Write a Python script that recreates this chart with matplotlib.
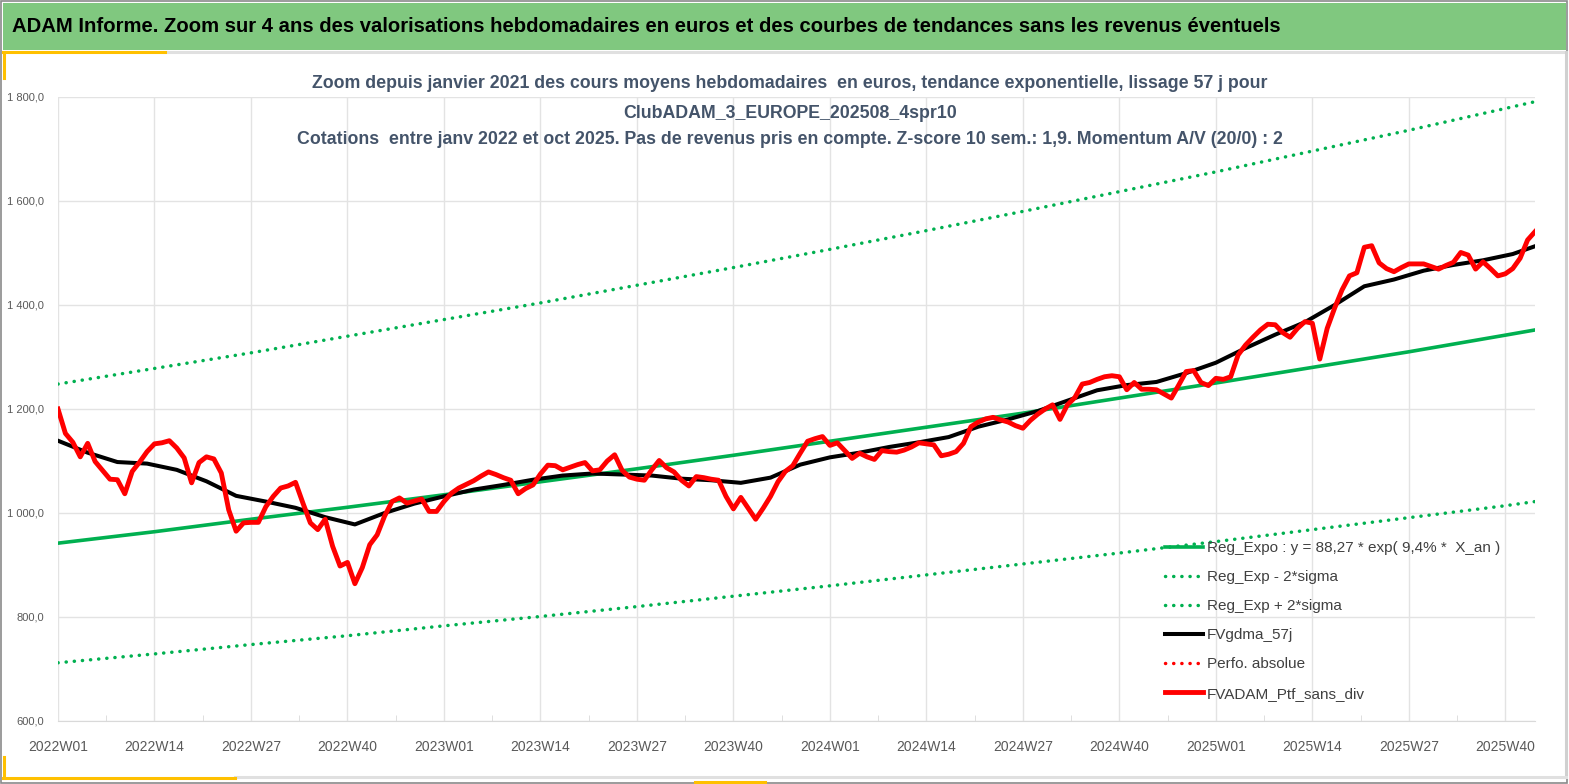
import numpy as np
import matplotlib
matplotlib.use("Agg")
import matplotlib.pyplot as plt
from matplotlib.patches import Rectangle
from matplotlib.lines import Line2D

plt.rcParams['font.family'] = ['Liberation Sans', 'DejaVu Sans']

# semaines (axe des categories)
weeks = [f"{y}W{w:02d}" for y in (2022, 2023, 2024) for w in range(1, 53)]
weeks += [f"2025W{w:02d}" for w in range(1, 45)]

# FVADAM_Ptf_sans_div, valeur hebdo
ptf = [1200, 1153, 1136, 1108, 1134, 1099, 1082, 1065, 1064, 1037,
       1080, 1098, 1118, 1133, 1135, 1139, 1125, 1106, 1058, 1097,
       1108, 1104, 1077, 1006, 965, 981, 982, 982, 1012, 1032,
       1048, 1052, 1059, 1019, 981, 968, 988, 936, 898, 905,
       864, 895, 939, 958, 994, 1022, 1029, 1019, 1023, 1027,
       1003, 1003, 1022, 1038, 1048, 1055, 1062, 1071, 1079, 1074,
       1068, 1063, 1037, 1047, 1054, 1075, 1092, 1091, 1083, 1088,
       1093, 1097, 1081, 1083, 1100, 1112, 1082, 1069, 1065, 1063,
       1083, 1101, 1087, 1079, 1063, 1052, 1070, 1068, 1065, 1063,
       1032, 1008, 1030, 1009, 988, 1009, 1032, 1060, 1080, 1091,
       1115, 1138, 1143, 1147, 1130, 1135, 1120, 1105, 1115, 1108,
       1103, 1120, 1118, 1117, 1121, 1127, 1135, 1133, 1131, 1110,
       1113, 1118, 1134, 1166, 1175, 1181, 1184, 1179, 1175, 1168,
       1163, 1178, 1190, 1200, 1208, 1180, 1208, 1222, 1248, 1251,
       1257, 1262, 1264, 1262, 1237, 1251, 1238, 1238, 1237, 1229,
       1221, 1246, 1272, 1274, 1251, 1245, 1259, 1257, 1262, 1304,
       1323, 1338, 1352, 1363, 1362, 1347, 1338, 1355, 1368, 1365,
       1296, 1355, 1394, 1429, 1456, 1462, 1511, 1514, 1481, 1470,
       1464, 1472, 1479, 1479, 1479, 1474, 1469, 1476, 1482, 1501,
       1496, 1469, 1483, 1470, 1456, 1460, 1470, 1490, 1525, 1541]

# FVgdma_57j, lue toutes les 4 semaines
gdma_weeks = weeks[::4] + [weeks[-1]]
gdma = [1139, 1116, 1098, 1095, 1083, 1061, 1033, 1022, 1010, 992,
        978, 1000, 1018, 1032, 1045, 1054, 1064, 1072, 1076, 1074,
        1072, 1066, 1063, 1058, 1068, 1093, 1107, 1116, 1127, 1136,
        1146, 1166, 1180, 1196, 1216, 1236, 1246, 1252, 1269, 1289,
        1317, 1343, 1367, 1400, 1436, 1449, 1466, 1477, 1486, 1498,
        1513]

# regression expo et bandes +/- 2 sigma, lues aux semaines du quadrillage
trend_weeks = weeks[::13] + [weeks[-1]]
reg_expo = [942, 964, 988, 1011, 1035, 1060, 1085, 1111, 1138, 1165,
            1192, 1221, 1250, 1280, 1310, 1342, 1352]
reg_moins = [712, 729, 747, 764, 783, 801, 820, 840, 860, 881,
             902, 923, 945, 968, 991, 1014, 1022]
reg_plus = [1248, 1278, 1308, 1340, 1372, 1404, 1438, 1472, 1507, 1543,
            1580, 1618, 1656, 1696, 1736, 1778, 1791]
perfo_abs = []

W, H = 1569, 784


def fx(px):
    return px / W


def fy(py):
    return 1 - py / H


fig = plt.figure(figsize=(W / 100, H / 100), dpi=100)
ax = fig.add_axes([fx(58), fy(721), (1535 - 58) / W, (721 - 97) / H])

# cadre, bandeau et reperes jaunes
fig.patches.append(Rectangle((fx(1), fy(783)), 1566 / W, 782 / H, transform=fig.transFigure,
                             fill=False, ec='#8a8a8a', lw=1.2))
fig.patches.append(Rectangle((fx(3), fy(50)), 1563 / W, 47 / H, transform=fig.transFigure,
                             fc='#80c87f', ec='none'))
for xs, ys, c in [((165, 1566), (52, 52), '#e0e0e0'), ((1566, 1566), (52, 777), '#d0d0d0'),
                  ((235, 1566), (777, 777), '#e0e0e0'),
                  ((3, 165), (52, 52), '#ffc000'), ((4, 4), (52, 78), '#ffc000'),
                  ((3, 235), (778, 778), '#ffc000'), ((4, 4), (757, 778), '#ffc000'),
                  ((695, 765), (782, 782), '#ffc000')]:
    fig.lines.append(Line2D([fx(v) for v in xs], [fy(v) for v in ys], transform=fig.transFigure,
                            color=c, lw=2.2))

fig.text(fx(12), fy(27), "ADAM Informe. Zoom sur 4 ans des valorisations hebdomadaires en euros et "
         "des courbes de tendances sans les revenus éventuels", ha='left', va='center',
         fontsize=14.6, fontweight='bold', color='black')

sub = ["Zoom depuis janvier 2021 des cours moyens hebdomadaires  en euros, tendance exponentielle, lissage 57 j pour",
       "ClubADAM_3_EUROPE_202508_4spr10",
       "Cotations  entre janv 2022 et oct 2025. Pas de revenus pris en compte. Z-score 10 sem.: 1,9. Momentum A/V (20/0) : 2"]
for txt, py in zip(sub, (83, 113, 139)):
    fig.text(fx(790), fy(py), txt, ha='center', va='center', fontsize=12.8, fontweight='bold',
             color='#44546a')

x = np.arange(len(weeks))
xt = [weeks.index(w) for w in trend_weeks]
xg = [weeks.index(w) for w in gdma_weeks]
dots = dict(color='#00b050', lw=2.5, linestyle=(0, (0.05, 2.3)), dash_capstyle='round')

ax.plot(xt, reg_expo, color='#00b050', lw=2.6, label='Reg_Expo : y = 88,27 * exp( 9,4% *  X_an )')
ax.plot(xt, reg_moins, label='Reg_Exp - 2*sigma', **dots)
ax.plot(xt, reg_plus, label='Reg_Exp + 2*sigma', **dots)
ax.plot(xg, gdma, color='black', lw=2.9, label='FVgdma_57j')
ax.plot(perfo_abs, perfo_abs, color='#ff0000', lw=2.5, linestyle=(0, (0.05, 2.3)),
        dash_capstyle='round', label='Perfo. absolue')
ax.plot(x, ptf, color='#ff0000', lw=3.5, label='FVADAM_Ptf_sans_div')

ax.set_xlim(0, len(weeks) - 1)
ax.set_ylim(600, 1800)
ax.set_yticks(range(600, 1801, 200))
ax.set_yticklabels([f"{v:,.1f}".replace(',', ' ').replace('.', ',') for v in range(600, 1801, 200)])
ax.set_xticks(range(0, len(weeks), 13))
ax.set_xticklabels(weeks[::13])
ax.set_xticks(np.arange(6.5, len(weeks), 13), minor=True)

ax.grid(True, which='major', color='#e3e3e3', lw=1)
ax.set_axisbelow(True)
for s in ('top', 'right', 'left'):
    ax.spines[s].set_visible(False)
ax.spines['bottom'].set_color('#d9d9d9')
ax.tick_params(axis='x', which='major', length=0, pad=14, labelsize=10, labelcolor='#595959')
ax.tick_params(axis='x', which='minor', length=4, direction='in', color='#d9d9d9')
ax.tick_params(axis='y', length=0, pad=10, labelsize=8, labelcolor='#595959')

ax.legend(loc='upper left', bbox_to_anchor=(fx(1165), fy(541)), bbox_transform=fig.transFigure,
          frameon=False, fontsize=11, handlelength=2.5, handletextpad=0.26, labelspacing=0.99,
          borderpad=0, borderaxespad=0, labelcolor='#404040')

fig.savefig('out.png', dpi=100)
